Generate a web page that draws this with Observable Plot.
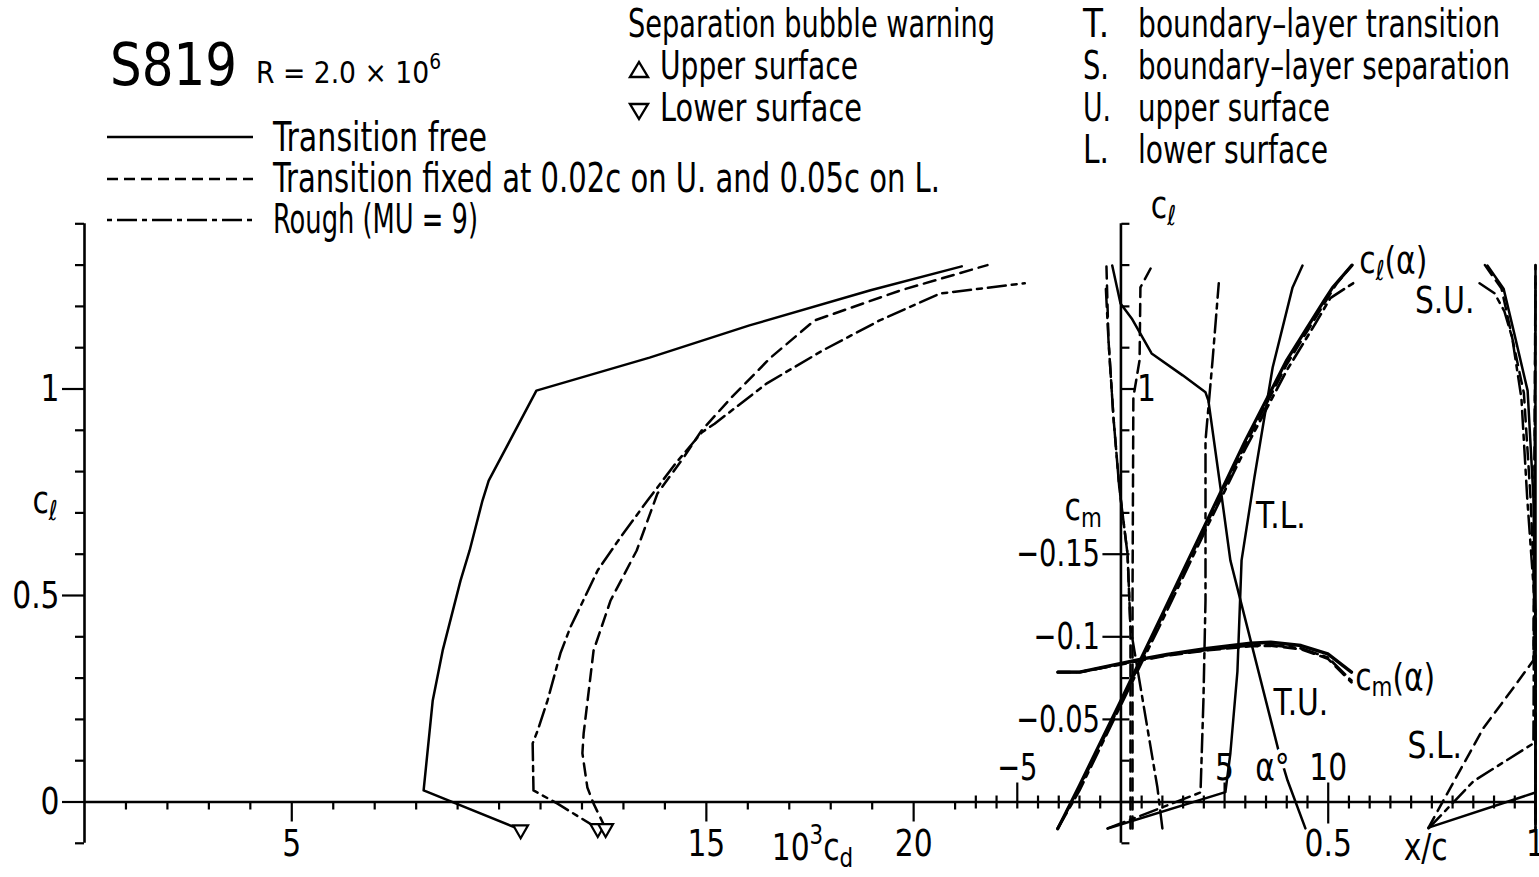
<!DOCTYPE html>
<html><head><meta charset="utf-8">
<script src="https://cdn.jsdelivr.net/npm/d3@7"></script>
<script src="https://cdn.jsdelivr.net/npm/@observablehq/plot@0.6"></script>
<style>
html,body{margin:0;padding:0;background:#fff;}
body{width:1539px;height:877px;position:relative;overflow:hidden;font-family:"DejaVu Sans Condensed","DejaVu Sans",sans-serif;color:#000;}
.t{position:absolute;white-space:nowrap;line-height:1;font-size:39px;transform-origin:0 0;}
#chart svg{position:absolute;left:0;top:0;}
</style></head><body>
<div id="chart"></div>
<svg id="legend" width="1539" height="240" style="position:absolute;left:0;top:0">
  <line x1="107" x2="253" y1="137" y2="137" stroke="#000" stroke-width="2.4"/>
  <line x1="107" x2="253" y1="179" y2="179" stroke="#000" stroke-width="2.4" stroke-dasharray="11,6"/>
  <line x1="107" x2="253" y1="220" y2="220" stroke="#000" stroke-width="2.4" stroke-dasharray="5,5,20,5"/>
  <polygon points="630,77 648,77 639,62" fill="none" stroke="#000" stroke-width="2.4"/>
  <polygon points="630,104 648,104 639,119" fill="none" stroke="#000" stroke-width="2.4"/>
</svg>
<div class="t" style="left:110px;top:35px;font-size:59px;" data-w="127">S819</div>
<div class="t" style="left:256px;top:58px;font-size:30px;" data-w="185">R = 2.0 × 10<span style="font-size:21px;position:relative;top:-14px;">6</span></div>
<div class="t" style="left:273px;top:117px;font-size:40px;" data-w="214">Transition free</div>
<div class="t" style="left:273px;top:158px;font-size:40px;" data-w="667">Transition fixed at 0.02c on U. and 0.05c on L.</div>
<div class="t" style="left:273px;top:199px;font-size:40px;" data-w="205">Rough (MU = 9)</div>
<div class="t" style="left:628px;top:4px;" data-w="367">Separation bubble warning</div>
<div class="t" style="left:660px;top:46px;" data-w="198">Upper surface</div>
<div class="t" style="left:660px;top:88px;" data-w="202">Lower surface</div>
<div class="t" style="left:1083px;top:4px;" data-w="26">T.</div>
<div class="t" style="left:1138px;top:4px;" data-w="362">boundary–layer transition</div>
<div class="t" style="left:1083px;top:46px;" data-w="26">S.</div>
<div class="t" style="left:1138px;top:46px;" data-w="372">boundary–layer separation</div>
<div class="t" style="left:1083px;top:88px;" data-w="28">U.</div>
<div class="t" style="left:1138px;top:88px;" data-w="192">upper surface</div>
<div class="t" style="left:1083px;top:130px;" data-w="26">L.</div>
<div class="t" style="left:1138px;top:130px;" data-w="190">lower surface</div>
<script>
// ================= DATA =================
// Drag polars: 10^3 cd vs cl
const freeCd  = [10.52, 8.18, 8.40, 8.64, 9.07, 9.29, 9.60, 9.75, 10.90, 13.63, 16.04, 18.96, 21.16];
const freeCl  = [-0.067, 0.028, 0.246, 0.367, 0.536, 0.609, 0.730, 0.778, 0.996, 1.076, 1.154, 1.239, 1.297];
const fixedCd = [12.57, 12.28, 12.13, 12.01, 12.04, 12.28, 12.69, 13.32, 13.82, 14.45, 14.89, 15.61, 16.55, 17.61, 19.69, 21.78];
const fixedCl = [-0.064, -0.004, 0.035, 0.118, 0.166, 0.367, 0.488, 0.609, 0.747, 0.834, 0.900, 0.980, 1.076, 1.166, 1.239, 1.300];
const roughCd = [12.38, 11.41, 10.83, 10.81, 10.93, 11.17, 11.48, 11.72, 12.38, 12.93, 13.58, 14.26, 14.89, 15.20, 16.45, 17.80, 19.18, 20.63, 22.68];
const roughCl = [-0.064, -0.004, 0.028, 0.142, 0.173, 0.246, 0.360, 0.423, 0.561, 0.641, 0.730, 0.820, 0.895, 0.916, 1.013, 1.093, 1.166, 1.231, 1.256];
// Separation bubble warning, lower surface
const bubbleLowerCd = [10.52, 12.38, 12.57];
const bubbleLowerCl = [-0.067, -0.064, -0.064];

// Lift curves cl(alpha)
const alphaFree  = [-3.05, -2, 0, 2, 4, 6, 8, 9.8, 10.2, 11.15];
const claFree    = [-0.065, 0.04, 0.246, 0.455, 0.665, 0.875, 1.07, 1.214, 1.245, 1.30];
const alphaFixed = [-3.05, -2, 0, 2, 4, 6, 8, 9.6, 10.4, 11.15];
const claFixed   = [-0.064, 0.035, 0.24, 0.45, 0.66, 0.865, 1.06, 1.19, 1.255, 1.30];
const alphaRough = [-3.05, -2, 0, 2, 4, 6, 8, 9.4, 10.1, 11.2];
const claRough   = [-0.064, 0.028, 0.235, 0.44, 0.65, 0.855, 1.045, 1.16, 1.22, 1.256];

// Moment curves cm(alpha)
const alphaCm = [-3.04, -1.99, -0.05, 0.92, 2.22, 4.16, 6.26, 7.23, 8.69, 9.98, 11.12];
const cmFree  = [-0.0786, -0.0786, -0.0838, -0.0863, -0.0893, -0.0929, -0.0961, -0.0967, -0.0947, -0.0897, -0.0786];
const cmFixed = [-0.0786, -0.0786, -0.0832, -0.0856, -0.0886, -0.0918, -0.0943, -0.0946, -0.0925, -0.0868, -0.0725];
const cmRough = [-0.0786, -0.0786, -0.0834, -0.0859, -0.0889, -0.0921, -0.0947, -0.0950, -0.0930, -0.0875, -0.0735];

// Transition / separation locations x/c vs cl
const tuFreeXc = [-0.021, -0.001, 0.026, 0.074, 0.149, 0.204, 0.211, 0.240, 0.264, 0.380, 0.402, 0.445];
const tuFreeCl = [1.299, 1.207, 1.171, 1.086, 1.033, 0.992, 0.972, 0.762, 0.585, 0.125, 0.052, -0.064];
const tlFreeXc = [-0.032, 0.252, 0.264, 0.281, 0.291, 0.322, 0.366, 0.414, 0.438];
const tlFreeCl = [-0.064, 0.024, 0.118, 0.316, 0.585, 0.786, 1.052, 1.246, 1.299];
const suFreeXc = [0.884, 0.923, 0.947, 0.981, 0.995, 1.0, 1.0];
const suFreeCl = [1.299, 1.243, 1.142, 0.996, 0.737, 0.415, -0.064];
const slFreeXc = [0.742, 1.0, 1.0];
const slFreeCl = [-0.062, 0.023, 1.299];

const tuFixedXc = [0.023, 0.023, 0.016, -0.004, -0.018, -0.030, -0.035];
const tuFixedCl = [-0.064, 0.42, 0.60, 0.762, 0.931, 1.118, 1.300];
const tlFixedXc = [0.028, 0.028, 0.030, 0.045, 0.047, 0.076];
const tlFixedCl = [-0.064, 0.50, 0.98, 1.07, 1.246, 1.300];
const suFixedXc = [0.878, 0.918, 0.940, 0.972, 0.988, 1.0, 1.0];
const suFixedCl = [1.300, 1.243, 1.142, 0.990, 0.737, 0.450, -0.064];
const slFixedXc = [0.742, 0.795, 0.875, 0.947, 0.995, 1.0];
const slFixedCl = [-0.062, 0.035, 0.180, 0.277, 0.343, 1.300];

const tuRoughXc = [0.100, 0.088, 0.023, 0.016, -0.004, -0.018, -0.030, -0.037];
const tuRoughCl = [-0.064, 0.035, 0.423, 0.600, 0.762, 0.931, 1.118, 1.256];
const tlRoughXc = [-0.032, 0.192, 0.199, 0.204, 0.204, 0.221, 0.236];
const tlRoughCl = [-0.064, 0.023, 0.246, 0.488, 0.875, 1.069, 1.256];
const suRoughXc = [0.865, 0.901, 0.925, 0.944, 0.966, 0.980, 1.0, 1.0];
const suRoughCl = [1.256, 1.232, 1.188, 1.123, 0.978, 0.736, 0.455, -0.064];
const slRoughXc = [0.742, 0.850, 0.995, 1.0];
const slRoughCl = [-0.064, 0.050, 0.142, 1.256];

// Tick values
const clTicks = [-0.1, 0, 0.1, 0.2, 0.3, 0.4, 0.5, 0.6, 0.7, 0.8, 0.9, 1, 1.1, 1.2, 1.3, 1.4];
const clLabelTicks = [0, 0.5, 1];
const clRightLabelTicks = [1];
const cdTicks = [1, 2, 3, 4, 5, 6, 7, 8, 9, 10, 11, 12, 13, 14, 15, 16, 17, 18, 19, 20, 21];
const cdLabelTicks = [5, 15, 20];
const alphaTicks = [-7, -6, -5, -4, -3, -2, -1, 1, 2, 3, 4, 5, 6, 7, 8, 9, 10, 11, 12, 13, 14, 15, 16, 17, 18, 19];
const alphaLabelTicks = [-5, 5, 10];
const xcTicks = [-0.35, -0.3, -0.25, -0.2, -0.15, -0.1, -0.05, 0.05, 0.1, 0.15, 0.2, 0.25, 0.3, 0.35, 0.4, 0.45, 0.5, 0.55, 0.6, 0.65, 0.7, 0.75, 0.8, 0.85, 0.9, 0.95, 1];
const xcLabelTicks = [0.5, 1];
const cmLabelTicks = [-0.05, -0.1, -0.15];

// ================= LAYOUT / STYLE =================
const FONT = '"DejaVu Sans Condensed","DejaVu Sans",sans-serif';
const W = 1539, H = 877;
const FRAME_TOP = 223.3, AXIS_Y = 801.5, LEFT = 84, RIGHT = 1535;
const CD_DOMAIN = [0, 35], ALPHA_DOMAIN = [-50, 20], XC_DOMAIN = [-2.5, 1];
const CL_DOMAIN = [0, 1.4], CM_DOMAIN = [0, -0.35];
const alphaZeroPx = LEFT + (0 - ALPHA_DOMAIN[0]) / (ALPHA_DOMAIN[1] - ALPHA_DOMAIN[0]) * (RIGHT - LEFT);
const FS = 38;
const fmt = d3.format("~g");
const SOLID = {stroke: "#000", strokeWidth: 2.5};
const DASH = {stroke: "#000", strokeWidth: 2.5, strokeDasharray: "12,7"};
const DASHDOT = {stroke: "#000", strokeWidth: 2.5, strokeDasharray: "18,6,5,6"};
const AXIS = {stroke: "#000", strokeWidth: 2.6};
const TICK = {label: null, strokeWidth: 2.2, stroke: "#000", fill: "#000"};
const none = () => "";
const minus = (all, major) => all.filter(v => !major.includes(v));
const pts = (xs, ys, kx, ky) => xs.map((v, i) => ({[kx]: v, [ky]: ys[i]}));

// HTML header: condense texts to the reference widths
document.querySelectorAll(".t[data-w]").forEach(el => {
  const w = el.getBoundingClientRect().width;
  const target = +el.dataset.w;
  if (w > 0) el.style.transform = `scaleX(${Math.min(1, target / w)})`;
});

// rich text (_x subscript, ^x superscript) and condensing of SVG texts
function rich(svg) {
  svg.querySelectorAll("text").forEach(t => {
    const s = t.textContent;
    if (!s) return;
    const fs = parseFloat(getComputedStyle(t).fontSize) || FS;
    if (/[_^]/.test(s)) {
      const first = t.querySelector("tspan");
      let baseDy = 0;
      if (first && first.getAttribute("dy")) {
        const v = first.getAttribute("dy");
        baseDy = v.endsWith("em") ? parseFloat(v) * fs : parseFloat(v);
      }
      while (t.firstChild) t.removeChild(t.firstChild);
      const parts = [];
      for (let i = 0; i < s.length; i++) {
        const c = s[i];
        if ((c === "_" || c === "^") && i + 1 < s.length) { parts.push({k: c, s: s[i + 1]}); i++; }
        else if (parts.length && parts[parts.length - 1].k === "n") parts[parts.length - 1].s += c;
        else parts.push({k: "n", s: c});
      }
      let cur = 0, firstSpan = true;
      for (const p of parts) {
        const sp = document.createElementNS("http://www.w3.org/2000/svg", "tspan");
        sp.textContent = p.s;
        const off = p.k === "_" ? 0.18 * fs : p.k === "^" ? -0.42 * fs : 0;
        const dy = off - cur + (firstSpan ? baseDy : 0);
        if (dy) sp.setAttribute("dy", dy);
        if (p.k !== "n") sp.setAttribute("font-size", fs * 0.72);
        t.appendChild(sp);
        cur = off; firstSpan = false;
      }
    }
    const len = t.getComputedTextLength();
    const k = /−/.test(t.textContent) ? 0.8 : 0.87;
    if (len > 0) { t.setAttribute("textLength", len * k); t.setAttribute("lengthAdjust", "spacingAndGlyphs"); }
  });
}

function layer(o, marks) {
  const opts = {
    width: W, height: H,
    marginTop: o.mt ?? FRAME_TOP, marginBottom: o.mb ?? (H - AXIS_Y),
    marginLeft: o.ml ?? LEFT, marginRight: o.mr ?? (W - RIGHT),
    x: {domain: o.x, axis: null},
    style: {background: "transparent", overflow: "visible", fontFamily: FONT, color: "#000"},
    marks
  };
  if (o.y) opts.y = {domain: o.y, axis: null};
  const svg = Plot.plot(opts);
  document.getElementById("chart").appendChild(svg);
  rich(svg);
}

// ---- Layer A: drag polar (10^3 cd vs cl), left axis, cd axis
layer({x: CD_DOMAIN, y: CL_DOMAIN}, [
  Plot.ruleY([0], AXIS),
  Plot.ruleX([0], {y1: -0.1, y2: 1.4, ...AXIS}),
  Plot.axisY(minus(clTicks, clLabelTicks), {anchor: "left", tickSize: 9, tickFormat: none, ...TICK}),
  Plot.axisY(clLabelTicks, {anchor: "left", tickSize: 22, tickPadding: 3, tickFormat: fmt, fontSize: FS, ...TICK}),
  Plot.axisX(minus(cdTicks, cdLabelTicks), {anchor: "bottom", tickSize: 8, tickFormat: none, ...TICK}),
  Plot.axisX(cdLabelTicks, {anchor: "bottom", tickSize: 20, tickPadding: 7, tickFormat: fmt, fontSize: FS, ...TICK}),
  Plot.line(pts(freeCd, freeCl, "cd", "cl"), {x: "cd", y: "cl", ...SOLID}),
  Plot.line(pts(fixedCd, fixedCl, "cd", "cl"), {x: "cd", y: "cl", ...DASH}),
  Plot.line(pts(roughCd, roughCl, "cd", "cl"), {x: "cd", y: "cl", ...DASHDOT}),
  Plot.dot(pts(bubbleLowerCd, bubbleLowerCl, "cd", "cl"), {x: "cd", y: "cl", symbol: "triangle", rotate: 180, r: 5.5, stroke: "#000", strokeWidth: 2.2, fill: "#fff"}),
  Plot.text(["c_ℓ"], {x: -0.95, y: 0.73, fontSize: FS, lineAnchor: "middle"}),
  Plot.text(["10^3c_d"], {x: 17.56, frameAnchor: "bottom", dy: 46, fontSize: FS, lineAnchor: "middle"})
]);

// ---- Layer E: x/c axis and transition / separation curves
layer({x: XC_DOMAIN, y: CL_DOMAIN}, [
  Plot.axisX(minus(xcTicks, xcLabelTicks), {anchor: "bottom", tickSize: 7, tickFormat: none, ...TICK}),
  Plot.axisX(xcLabelTicks, {anchor: "bottom", tickSize: 22, tickPadding: 5, tickFormat: fmt, fontSize: FS, ...TICK}),
  Plot.text(["x/c"], {x: 0.735, frameAnchor: "bottom", dy: 46, fontSize: FS, lineAnchor: "middle"}),
  Plot.line(pts(tuFreeXc, tuFreeCl, "xc", "cl"), {x: "xc", y: "cl", ...SOLID}),
  Plot.line(pts(tlFreeXc, tlFreeCl, "xc", "cl"), {x: "xc", y: "cl", ...SOLID}),
  Plot.line(pts(suFreeXc, suFreeCl, "xc", "cl"), {x: "xc", y: "cl", ...SOLID}),
  Plot.line(pts(slFreeXc, slFreeCl, "xc", "cl"), {x: "xc", y: "cl", ...SOLID}),
  Plot.line(pts(tuFixedXc, tuFixedCl, "xc", "cl"), {x: "xc", y: "cl", ...DASH}),
  Plot.line(pts(tlFixedXc, tlFixedCl, "xc", "cl"), {x: "xc", y: "cl", ...DASH}),
  Plot.line(pts(suFixedXc, suFixedCl, "xc", "cl"), {x: "xc", y: "cl", ...DASH}),
  Plot.line(pts(slFixedXc, slFixedCl, "xc", "cl"), {x: "xc", y: "cl", ...DASH}),
  Plot.line(pts(tuRoughXc, tuRoughCl, "xc", "cl"), {x: "xc", y: "cl", ...DASHDOT}),
  Plot.line(pts(tlRoughXc, tlRoughCl, "xc", "cl"), {x: "xc", y: "cl", ...DASHDOT}),
  Plot.line(pts(suRoughXc, suRoughCl, "xc", "cl"), {x: "xc", y: "cl", ...DASHDOT}),
  Plot.line(pts(slRoughXc, slRoughCl, "xc", "cl"), {x: "xc", y: "cl", ...DASHDOT}),
  Plot.text(["T.L."], {x: 0.386, y: 0.694, fontSize: FS, lineAnchor: "middle"}),
  Plot.text(["T.U."], {x: 0.434, y: 0.241, fontSize: FS, lineAnchor: "middle"}),
  Plot.text(["S.U."], {x: 0.781, y: 1.214, fontSize: FS, lineAnchor: "middle"}),
  Plot.text(["S.L."], {x: 0.757, y: 0.137, fontSize: FS, lineAnchor: "middle"})
]);

// ---- Layer B: right cl axis and cl(alpha)
layer({x: [ALPHA_DOMAIN[0], 0], y: CL_DOMAIN, mr: W - alphaZeroPx}, [
  Plot.ruleX([0], {y1: -0.1, y2: 1.4, ...AXIS}),
  Plot.axisY(minus(clTicks, clRightLabelTicks), {anchor: "right", tickSize: 8, tickFormat: none, ...TICK}),
  Plot.axisY(clRightLabelTicks, {anchor: "right", tickSize: 13, tickPadding: 3, tickFormat: fmt, fontSize: FS, ...TICK}),
  Plot.line(pts(alphaFree, claFree, "a", "cl"), {x: "a", y: "cl", stroke: "#000", strokeWidth: 3.2}),
  Plot.line(pts(alphaFixed, claFixed, "a", "cl"), {x: "a", y: "cl", ...DASH, strokeWidth: 2.7}),
  Plot.line(pts(alphaRough, claRough, "a", "cl"), {x: "a", y: "cl", ...DASHDOT, strokeWidth: 2.7}),
  Plot.text(["c_ℓ"], {x: 2.05, y: 1.444, fontSize: FS, lineAnchor: "middle"}),
  Plot.text(["c_ℓ(α)"], {x: 11.5, y: 1.31, fontSize: FS, textAnchor: "start", lineAnchor: "middle"})
]);

// ---- Layer C: cm axis and cm(alpha)
layer({x: [0, ALPHA_DOMAIN[1]], y: CM_DOMAIN, ml: alphaZeroPx}, [
  Plot.axisY(cmLabelTicks, {anchor: "left", tickSize: 18, tickPadding: 3, tickFormat: fmt, fontSize: FS, ...TICK}),
  Plot.line(pts(alphaCm, cmFree, "a", "cm"), {x: "a", y: "cm", stroke: "#000", strokeWidth: 3.4}),
  Plot.line(pts(alphaCm, cmFixed, "a", "cm"), {x: "a", y: "cm", ...DASH, strokeWidth: 2.7}),
  Plot.line(pts(alphaCm, cmRough, "a", "cm"), {x: "a", y: "cm", ...DASHDOT, strokeWidth: 2.7}),
  Plot.text(["c_m"], {x: -1.82, y: -0.178, fontSize: FS, lineAnchor: "middle"}),
  Plot.text(["c_m(α)"], {x: 11.3, y: -0.0754, fontSize: FS, textAnchor: "start", lineAnchor: "middle"})
]);

// ---- Layer D: alpha axis ticks (upward) and labels
layer({x: ALPHA_DOMAIN, mt: AXIS_Y, mb: 0}, [
  Plot.axisX(minus(alphaTicks, alphaLabelTicks), {anchor: "top", tickSize: 7, tickFormat: none, ...TICK}),
  Plot.axisX(alphaLabelTicks, {anchor: "top", tickSize: 20, tickPadding: 2, tickFormat: fmt, fontSize: FS, ...TICK}),
  Plot.text(["α°"], {x: 7.31, frameAnchor: "top", dy: -34, fontSize: FS, lineAnchor: "middle", stroke: "#fff", strokeWidth: 9, fill: "#000"})
]);
</script>
</body></html>
